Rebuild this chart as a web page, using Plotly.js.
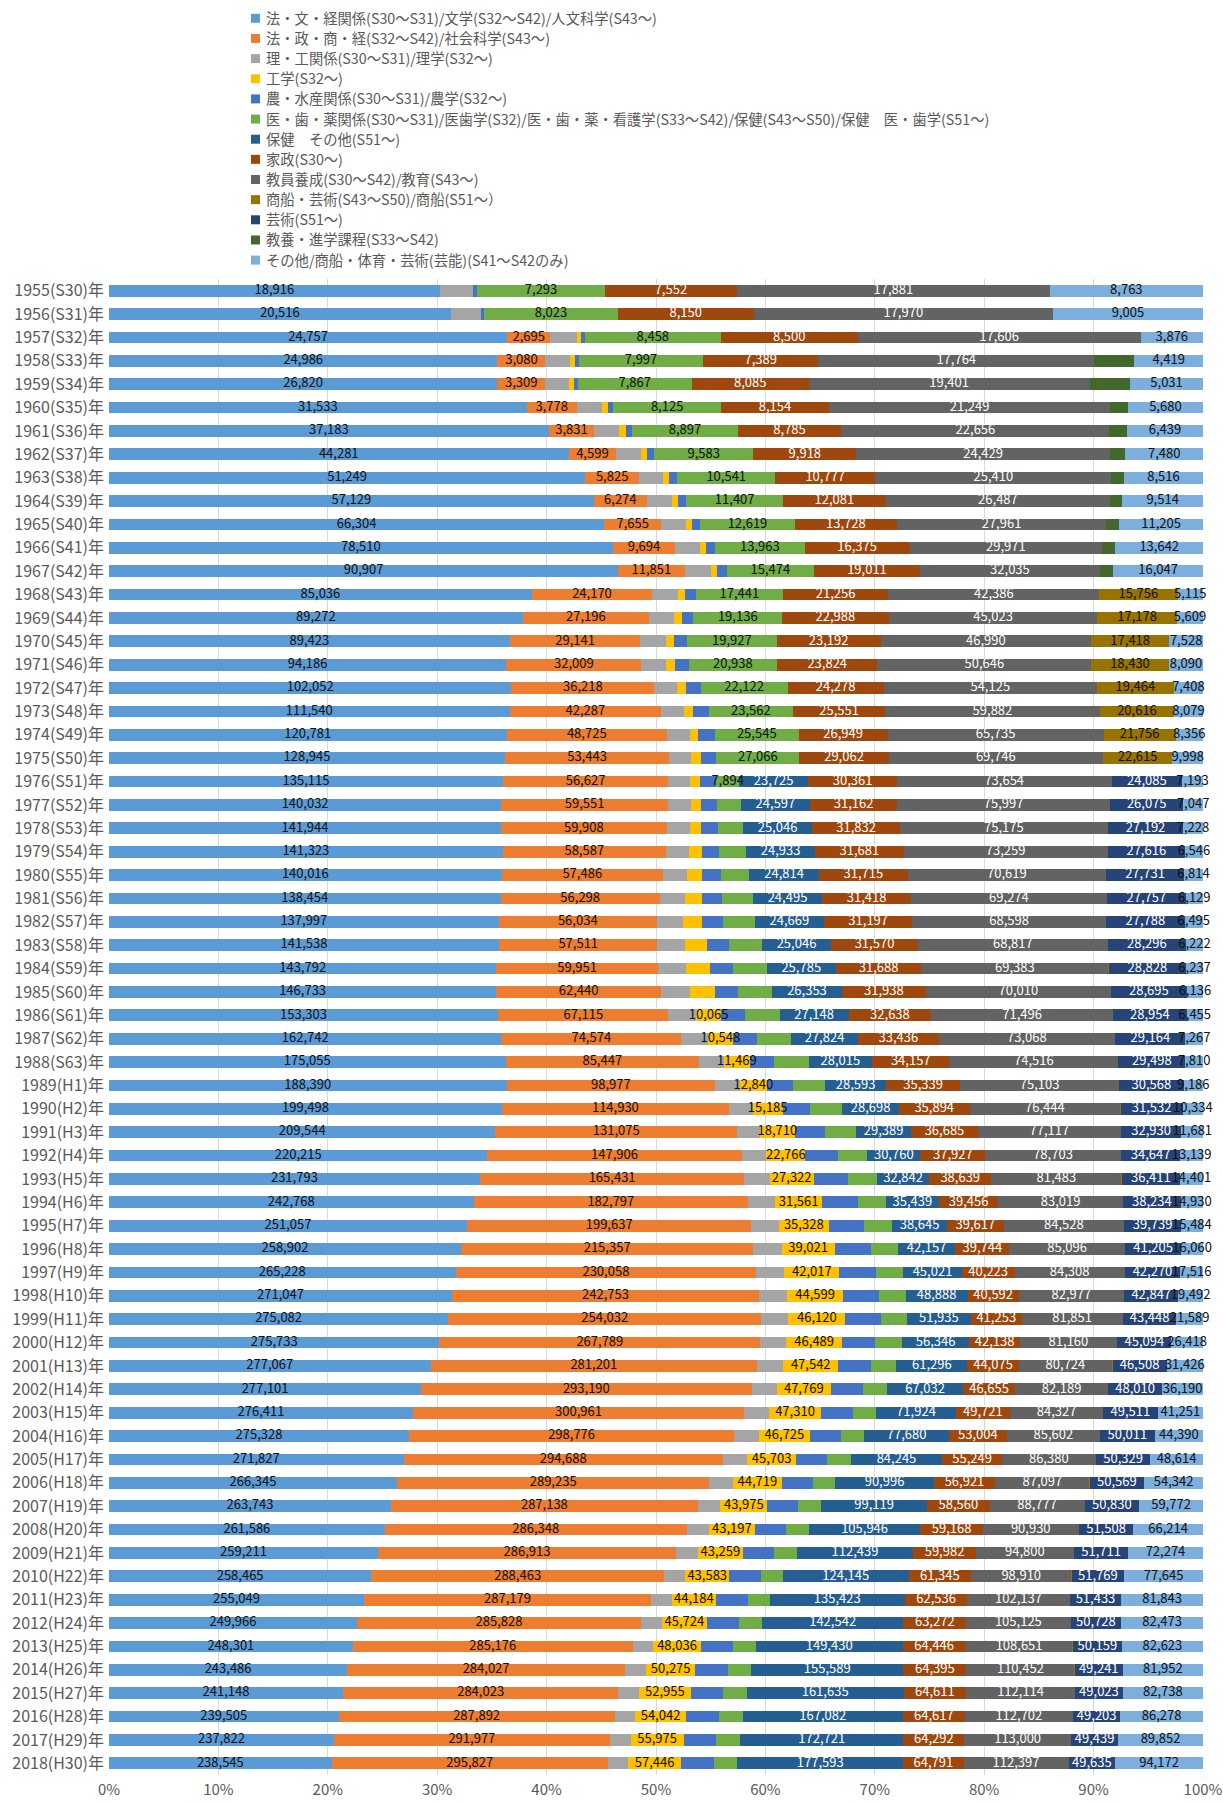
<!DOCTYPE html>
<html><head><meta charset="utf-8">
<script src="https://cdn.plot.ly/plotly-3.0.1.min.js"></script>
<style>html,body{margin:0;padding:0;background:#fff}#chart{width:1223px;height:1805px}</style>
</head><body><div id="chart"></div>
<script>
const years = ["1955(S30)年","1956(S31)年","1957(S32)年","1958(S33)年","1959(S34)年","1960(S35)年","1961(S36)年","1962(S37)年","1963(S38)年","1964(S39)年","1965(S40)年","1966(S41)年","1967(S42)年","1968(S43)年","1969(S44)年","1970(S45)年","1971(S46)年","1972(S47)年","1973(S48)年","1974(S49)年","1975(S50)年","1976(S51)年","1977(S52)年","1978(S53)年","1979(S54)年","1980(S55)年","1981(S56)年","1982(S57)年","1983(S58)年","1984(S59)年","1985(S60)年","1986(S61)年","1987(S62)年","1988(S63)年","1989(H1)年","1990(H2)年","1991(H3)年","1992(H4)年","1993(H5)年","1994(H6)年","1995(H7)年","1996(H8)年","1997(H9)年","1998(H10)年","1999(H11)年","2000(H12)年","2001(H13)年","2002(H14)年","2003(H15)年","2004(H16)年","2005(H17)年","2006(H18)年","2007(H19)年","2008(H20)年","2009(H21)年","2010(H22)年","2011(H23)年","2012(H24)年","2013(H25)年","2014(H26)年","2015(H27)年","2016(H28)年","2017(H29)年","2018(H30)年"];

const jinbun = [18916,20516,24757,24986,26820,31533,37183,44281,51249,57129,66304,78510,90907,85036,89272,89423,94186,102052,111540,120781,128945,135115,140032,141944,141323,140016,138454,137997,141538,143792,146733,153303,162742,175055,188390,199498,209544,220215,231793,242768,251057,258902,265228,271047,275082,275733,277067,277101,276411,275328,271827,266345,263743,261586,259211,258465,255049,249966,248301,243486,241148,239505,237822,238545];
const shakai = [null,null,2695,3080,3309,3778,3831,4599,5825,6274,7655,9694,11851,24170,27196,29141,32009,36218,42287,48725,53443,56627,59551,59908,58587,57486,56298,56034,57511,59951,62440,67115,74574,85447,98977,114930,131075,147906,165431,182797,199637,215357,230058,242753,254032,267789,281201,293190,300961,298776,294688,289235,287138,286348,286913,288463,287179,285828,285176,284027,284023,287892,291977,295827];
const rigaku = [1870,1800,1630,1580,1610,1900,2100,2350,2590,3000,3350,3930,4700,5250,5420,5670,5730,5870,6440,6900,7200,7600,8130,8490,8290,8600,9020,9120,9970,10430,10910,10800,10970,10920,11580,12240,12510,14400,15890,17860,19030,20720,21550,21970,22000,21770,22500,22530,22780,22700,22210,21960,20980,21270,21280,20800,20790,20940,21170,21580,21420,20880,21980,21440];
const kogaku = [null,null,250,320,390,456,595,610,610,680,760,890,1140,1350,1660,1870,2230,2210,2430,2640,3050,3340,3590,4000,4560,5260,5940,6750,7900,8810,9390,10065,10548,11469,12840,15185,18710,22766,27322,31561,35328,39021,42017,44599,46120,46489,47542,47769,47310,46725,45703,44719,43975,43197,43259,43583,44184,45724,48036,50275,52955,54042,55975,57446];
const nogaku = [268,200,260,257,253,405,540,675,900,960,1120,1410,1750,2220,2530,2910,3260,3650,4290,4970,5130,5520,5740,6190,6240,6930,7130,7580,8150,8560,8760,9230,9720,10770,12380,14110,16680,18700,21330,23880,24900,26890,28330,28030,28770,27540,28270,28540,28940,28220,28670,28740,28750,29780,30240,30930,31840,32400,33430,33540,33490,33880,34710,34800];
const ishigaku = [7293,8023,8458,7997,7867,8125,8897,9583,10541,11407,12619,13963,15474,17441,19136,19927,20938,22122,23562,25545,27066,7894,8610,8970,9600,10040,10810,11120,11920,12540,13070,13710,14300,15200,15390,16160,16860,17330,18200,18370,19340,19750,20520,21180,21080,22330,21670,21650,21480,21790,21600,21050,21590,21580,21600,21770,21770,22920,22840,23590,24470,24760,25100,25070];
const hokenSonota = [null,null,null,null,null,null,null,null,null,null,null,null,null,null,null,null,null,null,null,null,null,23725,24597,25046,24933,24814,24495,24669,25046,25785,26353,27148,27824,28015,28593,28698,29389,30760,32842,35439,38645,42157,45021,48888,51935,56346,61296,67032,71924,77680,84245,90996,99119,105946,112439,124145,135423,142542,149430,155589,161635,167082,172721,177593];
const kasei = [7552,8150,8500,7389,8085,8154,8785,9918,10777,12081,13728,16375,19011,21256,22988,23192,23824,24278,25551,26949,29062,30361,31162,31832,31681,31715,31418,31197,31570,31688,31938,32638,33436,34157,35339,35894,36685,37927,38639,39456,39617,39744,40223,40592,41253,42138,44075,46655,49721,53004,55249,56921,58560,59168,59982,61345,62536,63272,64446,64395,64611,64617,64292,64791];
const kyoiku = [17881,17970,17606,17764,19401,21249,22656,24429,25410,26487,27961,29971,32035,42386,45023,46990,50646,54125,59882,65735,69746,73654,75997,75175,73259,70619,69274,68598,68817,69383,70010,71496,73068,74516,75103,76444,77117,78703,81483,83019,84528,85096,84308,82977,81851,81160,80724,82189,84327,85602,86380,87097,88777,90930,94800,98910,102137,105125,108651,110452,112114,112702,113000,112397];
const shosen = [null,null,null,null,null,null,null,null,null,null,null,null,null,15756,17178,17418,18430,19464,20616,21756,22615,60,60,70,70,80,80,90,90,100,100,110,110,120,120,130,130,140,140,150,150,160,160,170,170,180,180,190,190,200,200,210,210,220,220,230,230,240,240,250,250,260,260,270];
const geijutsu = [null,null,null,null,null,null,null,null,null,null,null,null,null,null,null,null,null,null,null,null,null,24085,26075,27192,27616,27731,27757,27788,28296,28828,28695,28954,29164,29498,30568,31532,32930,34647,36411,38234,39739,41205,42270,42847,43448,45094,46508,48010,49511,50011,50329,50569,50830,51508,51711,51769,51433,50728,50159,49241,49023,49203,49439,49635];
const kyoyo = [null,null,null,2570,2800,1310,1470,1500,1350,1410,1790,2090,2400,null,null,null,null,null,null,null,null,null,null,null,null,null,null,null,null,null,null,null,null,null,null,null,null,null,null,null,null,null,null,null,null,null,null,null,null,null,null,null,null,null,null,null,null,null,null,null,null,null,null,null];
const sonota = [8763,9005,3876,4419,5031,5680,6439,7480,8516,9514,11205,13642,16047,5115,5609,7528,8090,7408,8079,8356,9998,7193,7047,7228,6546,6814,6129,6495,6222,6237,6136,6455,7267,7810,9186,10334,11681,13139,14401,14930,15484,16060,17516,19492,21589,26418,31426,36190,41251,44390,48614,54342,59772,66214,72274,77645,81843,82473,82623,81952,82738,86278,89852,94172];

const seriesNames = [
 "法・文・経関係(S30～S31)/文学(S32～S42)/人文科学(S43～)",
 "法・政・商・経(S32～S42)/社会科学(S43～)",
 "理・工関係(S30～S31)/理学(S32～)",
 "工学(S32～)",
 "農・水産関係(S30～S31)/農学(S32～)",
 "医・歯・薬関係(S30～S31)/医歯学(S32)/医・歯・薬・看護学(S33～S42)/保健(S43～S50)/保健　医・歯学(S51～)",
 "保健　その他(S51～)",
 "家政(S30～)",
 "教員養成(S30～S42)/教育(S43～)",
 "商船・芸術(S43～S50)/商船(S51～）",
 "芸術(S51～)",
 "教養・進学課程(S33～S42)",
 "その他/商船・体育・芸術(芸能)(S41～S42のみ)"
];
const seriesValues = [jinbun, shakai, rigaku, kogaku, nogaku, ishigaku, hokenSonota, kasei, kyoiku, shosen, geijutsu, kyoyo, sonota];
const colors = ["#5B9BD5","#ED7D31","#A5A5A5","#FFC000","#4472C4","#70AD47","#255E91","#9E480E","#636363","#997300","#264478","#43682B","#7CAFDD"];
// year index ranges where data labels are shown (null = none)
const labelRanges = [[0,63],[0,63],null,[31,63],null,[0,21],[0,63],[0,63],[0,63],[13,20],[0,63],null,[0,63]];
const darkText = [false,false,false,false,false,false,true,true,true,false,true,false,false];

const fmt = v => (v === null || v === undefined) ? "" : v.toLocaleString("en-US");
const FONT = "'Noto Sans CJK JP', 'Noto Sans', sans-serif";

const W = 1223, H = 1805, M = {l: 109, r: 20, t: 279, b: 30};
const plotW = W - M.l - M.r, plotH = H - M.t - M.b;

// totals per year (for label placement at segment centres in percent space)
const totals = years.map((_, j) => seriesValues.reduce((s, arr) => s + (arr[j] || 0), 0));
const cum = years.map(() => 0);

const barTraces = [], textTraces = [];
seriesValues.forEach((vals, i) => {
  barTraces.push({
    type: "bar", orientation: "h", name: seriesNames[i], showlegend: false,
    y: years, x: vals, textposition: "none",
    marker: {color: colors[i], line: {width: 0}}, hoverinfo: "skip"
  });
  const r = labelRanges[i];
  const tx = [], ty = [], tt = [];
  vals.forEach((v, j) => {
    const p = (v || 0) / totals[j] * 100;
    if (r && v && j >= r[0] && j <= r[1]) { tx.push(cum[j] + p / 2); ty.push(years[j]); tt.push(fmt(v)); }
    cum[j] += p;
  });
  if (tx.length) textTraces.push({
    type: "scatter", mode: "text", x: tx, y: ty, text: tt, showlegend: false, cliponaxis: false,
    textposition: "middle center", hoverinfo: "skip",
    textfont: {family: FONT, size: 13, color: darkText[i] ? "#FFFFFF" : "#111111"}
  });
});

// Legend drawn as paper-positioned keys + text (stacked list above the plot)
const legTop = 17.3, legStep = 20.15, keyX0 = 251, keySize = 9, legTextX = 264;
const px2x = px => (px - M.l) / plotW;
const px2y = py => 1 + (M.t - py) / plotH;
const annotations = [], shapes = [];
seriesNames.forEach((nm, i) => {
  const cy = legTop + i * legStep;
  annotations.push({xref: "paper", yref: "paper", x: px2x(legTextX), y: px2y(cy), xanchor: "left", yanchor: "middle",
    text: nm, showarrow: false, align: "left", font: {family: FONT, size: 14.3, color: "#595959"}});
  shapes.push({type: "rect", xref: "paper", yref: "paper", x0: px2x(keyX0), x1: px2x(keyX0 + keySize),
    y0: px2y(cy - keySize / 2 + 1), y1: px2y(cy + keySize / 2 + 1), fillcolor: colors[i], line: {width: 0}});
});

const layout = {
  width: W, height: H,
  margin: {l: M.l, r: M.r, t: M.t, b: M.b, pad: 0, autoexpand: false},
  paper_bgcolor: "#ffffff", plot_bgcolor: "#ffffff",
  barmode: "stack", barnorm: "percent", bargap: 0.5,
  font: {family: FONT, color: "#595959"},
  showlegend: false,
  annotations: annotations, shapes: shapes,
  xaxis: {range: [0, 100], autorange: false, dtick: 10, ticksuffix: "%", showgrid: true, gridcolor: "#D9D9D9", gridwidth: 1,
          zeroline: false, showline: false, ticks: "", fixedrange: true, ticklabelstandoff: 4,
          tickfont: {family: FONT, size: 15, color: "#595959"}},
  yaxis: {type: "category", categoryorder: "array", categoryarray: years,
          autorange: false, range: [years.length - 0.5, -0.5],
          automargin: false, ticks: "", showgrid: false,
          showline: false, zeroline: false, ticklabelstandoff: 4,
          tickfont: {family: FONT, size: 16, color: "#595959"}}
};

Plotly.newPlot("chart", barTraces.concat(textTraces), layout, {displayModeBar: false, staticPlot: true});
</script></body></html>
